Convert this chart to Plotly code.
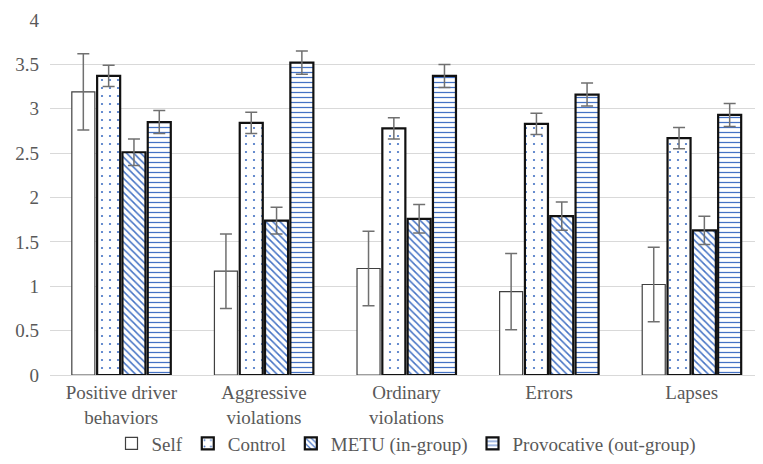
import plotly.graph_objects as go

categories = ["Positive driver<br>behaviors", "Aggressive<br>violations", "Ordinary<br>violations", "Errors", "Lapses"]
series_names = ["Self", "Control", "METU (in-group)", "Provocative (out-group)"]
self_vals = [3.19, 1.17, 1.20, 0.94, 1.02]
self_err = [0.43, 0.42, 0.42, 0.43, 0.42]
control_vals = [3.37, 2.84, 2.78, 2.83, 2.67]
control_err = [0.12, 0.12, 0.12, 0.12, 0.12]
metu_vals = [2.51, 1.74, 1.76, 1.79, 1.63]
metu_err = [0.15, 0.15, 0.16, 0.16, 0.16]
prov_vals = [2.85, 3.52, 3.37, 3.16, 2.93]
prov_err = [0.13, 0.13, 0.13, 0.13, 0.13]
y_ticks = [0, 0.5, 1, 1.5, 2, 2.5, 3, 3.5, 4]
y_tick_labels = ["0", "0.5", "1", "1.5", "2", "2.5", "3", "3.5", "4"]

values = [self_vals, control_vals, metu_vals, prov_vals]
errors = [self_err, control_err, metu_err, prov_err]
patterns = ["", ".", "\\", "-"]
pat_sizes = [0, 8, 5, 5]
pat_solid = [0, 0.06, 0.3, 0.25]
line_widths = [1.2, 2.2, 2.2, 2.2]
line_colors = ["#404040", "#111111", "#111111", "#111111"]

FONT = "Liberation Serif, Times New Roman, serif"
FS = 19

fig = go.Figure()
for name, v, e, p, ps, so, lw, lc in zip(series_names, values, errors, patterns, pat_sizes, pat_solid, line_widths, line_colors):
    marker = dict(color="white", line=dict(color=lc, width=lw))
    if p:
        marker["pattern"] = dict(shape=p, fgcolor="#4472C4", bgcolor="white",
                                 size=ps, solidity=so, fillmode="replace")
    fig.add_trace(go.Bar(
        name=name, x=categories, y=v, marker=marker,
        error_y=dict(type="data", array=e, color="#707070", thickness=1.5, width=6),
    ))

# the page body has an 8px default margin, so the figure is sized/placed to compensate
fig.update_layout(
    width=755, height=456,
    barmode="group", bargap=0.29, bargroupgap=0.09,
    plot_bgcolor="white", paper_bgcolor="white",
    margin=dict(l=42, r=0, t=12, b=89, autoexpand=False),
    font=dict(family=FONT, size=FS, color="#595959"),
    legend=dict(orientation="h", x=0.5, xanchor="center", yref="container", y=0.045, yanchor="middle",
                bgcolor="rgba(0,0,0,0)",
                font=dict(family=FONT, size=FS, color="#595959"), traceorder="normal",
                itemwidth=30),
    showlegend=True,
)
fig.update_yaxes(range=[0, 4.0001], tickvals=y_ticks, ticktext=y_tick_labels,
                 showgrid=True, gridcolor="#d9d9d9", gridwidth=1,
                 zeroline=False, showline=False, tickfont=dict(size=FS), ticklabelstandoff=10)
fig.update_xaxes(showline=True, linecolor="#d9d9d9", linewidth=1, tickfont=dict(size=FS),
                 ticks="")
fig.write_html("out.html")
